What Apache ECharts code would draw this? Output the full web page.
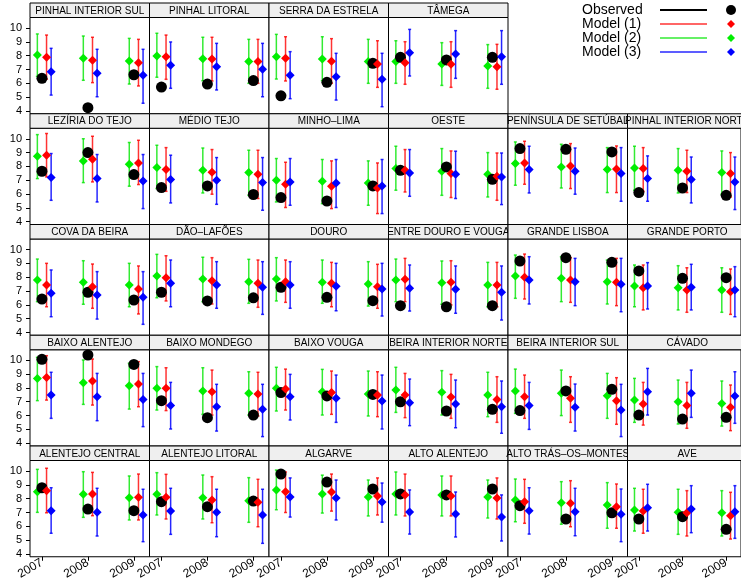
<!DOCTYPE html>
<html>
<head>
<meta charset="utf-8">
<script src="https://cdn.jsdelivr.net/npm/echarts@6/dist/echarts.min.js"></script>
<style>
  html, body { margin: 0; padding: 0; background: #fff; }
  #chart { width: 741px; height: 586px; }
</style>
</head>
<body>
<div id="chart"></div>
<script>
// panels, in reading order (first row has 4 panels, then legend)
const regions = [
  'PINHAL INTERIOR SUL', 'PINHAL LITORAL', 'SERRA DA ESTRELA', 'TÂMEGA',
  'LEZÍRIA DO TEJO', 'MÉDIO TEJO', 'MINHO–LIMA', 'OESTE', 'PENÍNSULA DE SETÚBAL', 'PINHAL INTERIOR NORTE',
  'COVA DA BEIRA', 'DÃO–LAFÕES', 'DOURO', 'ENTRE DOURO E VOUGA', 'GRANDE LISBOA', 'GRANDE PORTO',
  'BAIXO ALENTEJO', 'BAIXO MONDEGO', 'BAIXO VOUGA', 'BEIRA INTERIOR NORTE', 'BEIRA INTERIOR SUL', 'CÁVADO',
  'ALENTEJO CENTRAL', 'ALENTEJO LITORAL', 'ALGARVE', 'ALTO ALENTEJO', 'ALTO TRÁS–OS–MONTES', 'AVE'
];
const years = [2007, 2008, 2009];
const yTicks = [4, 5, 6, 7, 8, 9, 10];

// observed value per year
const obs = [
  [6.36, 4.24, 6.62], [5.73, 5.95, 6.2], [5.1, 6.07, 7.45], [7.88, 7.69, 7.88],
  [7.65, 9.0, 7.41], [6.47, 6.59, 5.97], [5.75, 5.5, 6.59], [7.72, 7.96, 7.07], [9.29, 9.24, 9.05], [6.11, 6.44, 5.91],
  [6.42, 6.91, 6.35], [6.91, 6.28, 6.51], [7.27, 6.54, 6.3], [5.94, 5.86, 5.94], [9.17, 9.41, 9.07], [8.45, 7.92, 7.96],
  [10.07, 10.38, 9.7], [7.08, 5.85, 6.04], [7.66, 7.42, 7.53], [7.0, 6.33, 6.45], [6.36, 7.78, 7.9], [6.04, 5.75, 5.87],
  [8.79, 7.25, 7.13], [7.78, 7.42, 7.83], [9.78, 9.2, 8.7], [8.34, 8.27, 8.7], [7.49, 6.53, 6.98], [6.53, 6.7, 5.78]
];

// model (1), red: [estimate, lower, upper] per year
const model1 = [
  [[7.88, 6.3, 9.49], [7.66, 6.05, 9.33], [7.49, 5.81, 9.18]],
  [[7.93, 6.29, 9.49], [7.76, 6.17, 9.33], [7.57, 6.0, 9.18]],
  [[7.81, 6.17, 9.37], [7.59, 6.0, 9.23], [7.40, 5.71, 9.08]],
  [[7.49, 5.93, 9.01], [7.38, 5.71, 9.01], [7.20, 5.57, 8.82]],
  [[8.81, 7.24, 10.38], [8.52, 6.88, 10.18], [8.25, 6.69, 9.89]],
  [[7.77, 6.2, 9.36], [7.58, 5.99, 9.22], [7.43, 5.68, 9.17]],
  [[6.71, 5.03, 8.3], [6.57, 4.95, 8.4], [6.44, 4.59, 8.25]],
  [[7.72, 6.15, 9.22], [7.48, 5.75, 9.12], [7.29, 5.55, 8.97]],
  [[8.25, 6.71, 9.82], [8.03, 6.4, 9.65], [7.82, 6.11, 9.48]],
  [[7.85, 6.2, 9.36], [7.65, 6.11, 9.17], [7.48, 5.79, 9.0]],
  [[7.43, 5.86, 9.0], [7.31, 5.75, 8.95], [7.14, 5.34, 8.81]],
  [[7.96, 6.28, 9.55], [7.74, 6.06, 9.41], [7.56, 5.82, 9.24]],
  [[7.67, 6.18, 9.24], [7.56, 5.86, 9.07], [7.31, 5.75, 8.93]],
  [[7.85, 6.23, 9.36], [7.63, 5.99, 9.19], [7.43, 5.86, 9.07]],
  [[7.99, 6.42, 9.67], [7.79, 6.18, 9.41], [7.63, 5.94, 9.36]],
  [[7.24, 5.63, 8.88], [7.07, 5.46, 8.68], [6.95, 5.31, 8.59]],
  [[8.76, 7.12, 10.33], [8.5, 6.76, 10.09], [8.28, 6.64, 9.9]],
  [[7.97, 6.36, 9.46], [7.73, 6.04, 9.29], [7.56, 5.97, 9.13]],
  [[7.92, 6.4, 9.36], [7.66, 6.09, 9.22], [7.48, 5.92, 9.17]],
  [[7.48, 5.85, 9.05], [7.34, 5.8, 8.98], [7.17, 5.51, 8.81]],
  [[7.36, 5.8, 8.93], [7.25, 5.51, 8.81], [7.08, 5.37, 8.74]],
  [[6.83, 5.31, 8.4], [6.72, 5.08, 8.4], [6.6, 4.91, 8.21]],
  [[8.58, 6.98, 10.2], [8.34, 6.77, 9.9], [8.1, 6.46, 9.78]],
  [[8.1, 6.53, 9.76], [7.9, 6.26, 9.59], [7.74, 5.97, 9.4]],
  [[8.5, 7.0, 9.93], [8.48, 7.1, 9.78], [8.2, 6.82, 9.5]],
  [[8.27, 6.75, 9.78], [8.2, 6.75, 9.64], [8.05, 6.53, 9.5]],
  [[7.78, 6.22, 9.4], [7.66, 5.97, 9.3], [7.42, 5.86, 9.06]],
  [[7.11, 5.5, 8.68], [6.98, 5.3, 8.58], [6.77, 5.08, 8.46]]
];

// model (2), green
const model2 = [
  [[8.05, 6.5, 9.57], [7.81, 6.22, 9.42], [7.61, 5.95, 9.25]],
  [[7.98, 6.44, 9.62], [7.78, 6.19, 9.33], [7.57, 6.0, 9.18]],
  [[7.93, 6.31, 9.54], [7.76, 6.19, 9.37], [7.57, 6.0, 9.18]],
  [[7.57, 6.0, 9.08], [7.40, 5.85, 8.94], [7.25, 5.64, 8.8]],
  [[8.73, 7.12, 10.3], [8.4, 6.83, 10.0], [8.16, 6.57, 9.73]],
  [[7.92, 6.4, 9.53], [7.72, 6.08, 9.33], [7.56, 5.91, 9.17]],
  [[7.0, 5.43, 8.57], [6.93, 5.31, 8.5], [6.8, 5.19, 8.4]],
  [[7.85, 6.28, 9.46], [7.65, 5.91, 9.29], [7.43, 5.79, 9.0]],
  [[8.21, 6.64, 9.77], [7.96, 6.44, 9.6], [7.77, 6.11, 9.36]],
  [[7.89, 6.28, 9.46], [7.72, 6.08, 9.29], [7.56, 5.99, 9.12]],
  [[7.79, 6.23, 9.31], [7.63, 6.04, 9.19], [7.43, 5.86, 9.0]],
  [[8.08, 6.51, 9.65], [7.87, 6.23, 9.44], [7.67, 6.11, 9.29]],
  [[7.87, 6.28, 9.41], [7.63, 6.11, 9.24], [7.51, 5.91, 9.12]],
  [[7.79, 6.23, 9.31], [7.6, 6.04, 9.17], [7.43, 5.86, 9.07]],
  [[8.08, 6.47, 9.6], [7.92, 6.23, 9.48], [7.67, 6.06, 9.24]],
  [[7.36, 5.86, 8.88], [7.24, 5.63, 8.83], [7.07, 5.46, 8.68]],
  [[8.69, 7.08, 10.21], [8.38, 6.81, 10.02], [8.16, 6.47, 9.78]],
  [[7.97, 6.4, 9.54], [7.78, 6.09, 9.46], [7.61, 6.04, 9.17]],
  [[7.97, 6.33, 9.49], [7.73, 6.04, 9.34], [7.56, 5.97, 9.22]],
  [[7.85, 6.23, 9.49], [7.68, 6.04, 9.25], [7.48, 5.92, 9.13]],
  [[7.78, 6.16, 9.36], [7.61, 6.0, 9.29], [7.44, 5.8, 9.05]],
  [[7.12, 5.51, 8.69], [7.0, 5.39, 8.57], [6.88, 5.24, 8.5]],
  [[8.5, 7.01, 10.12], [8.32, 6.65, 9.95], [8.07, 6.46, 9.64]],
  [[8.32, 6.82, 9.88], [8.07, 6.53, 9.71], [7.85, 6.29, 9.52]],
  [[8.63, 7.2, 10.07], [8.34, 6.96, 9.7], [8.12, 6.75, 9.35]],
  [[8.34, 6.82, 9.93], [8.27, 6.75, 9.64], [8.12, 6.6, 9.35]],
  [[7.9, 6.33, 9.42], [7.71, 6.15, 9.23], [7.54, 5.86, 9.16]],
  [[7.18, 5.66, 8.75], [7.01, 5.42, 8.68], [6.98, 5.3, 8.58]]
];

// model (3), blue
const model3 = [
  [[6.84, 5.15, 8.53], [6.72, 5.03, 8.46], [6.58, 4.56, 8.46]],
  [[7.30, 5.64, 8.99], [7.2, 5.52, 8.89], [7.01, 5.03, 8.89]],
  [[6.58, 4.89, 8.29], [6.48, 4.79, 8.17], [6.29, 4.31, 8.17]],
  [[8.22, 6.53, 9.9], [8.12, 6.36, 9.81], [7.93, 5.93, 9.81]],
  [[7.19, 5.55, 8.93], [7.12, 5.43, 8.86], [6.95, 4.95, 8.86]],
  [[7.05, 5.36, 8.81], [7.0, 5.26, 8.64], [6.83, 4.83, 8.64]],
  [[6.88, 5.19, 8.57], [6.8, 5.03, 8.5], [6.59, 4.59, 8.5]],
  [[7.53, 5.84, 9.22], [7.43, 5.68, 9.1], [7.24, 5.24, 8.97]],
  [[7.77, 6.08, 9.46], [7.65, 5.99, 9.33], [7.48, 5.48, 9.36]],
  [[7.12, 5.48, 8.76], [7.05, 5.36, 8.68], [6.88, 4.88, 8.68]],
  [[6.83, 5.14, 8.52], [6.71, 4.97, 8.4], [6.54, 4.59, 8.4]],
  [[7.56, 5.86, 9.24], [7.43, 5.75, 9.12], [7.27, 5.31, 9.12]],
  [[7.43, 5.75, 9.12], [7.34, 5.57, 9.0], [7.14, 5.19, 9.0]],
  [[7.19, 5.55, 8.88], [7.12, 5.39, 8.81], [6.91, 4.9, 8.81]],
  [[7.79, 6.06, 9.48], [7.67, 5.94, 9.36], [7.48, 5.5, 9.36]],
  [[7.36, 5.7, 9.05], [7.27, 5.63, 8.93], [7.07, 5.14, 8.76]],
  [[7.48, 5.8, 9.13], [7.36, 5.63, 9.05], [7.17, 5.2, 9.05]],
  [[6.72, 5.03, 8.4], [6.64, 4.88, 8.26], [6.45, 4.48, 8.26]],
  [[7.36, 5.68, 8.98], [7.25, 5.51, 8.93], [7.05, 5.03, 8.93]],
  [[6.93, 5.27, 8.64], [6.83, 5.12, 8.57], [6.64, 4.72, 8.5]],
  [[6.72, 5.0, 8.4], [6.6, 4.88, 8.28], [6.4, 4.48, 8.26]],
  [[7.73, 6.04, 9.41], [7.61, 5.87, 9.29], [7.42, 5.44, 9.17]],
  [[7.13, 5.5, 8.79], [7.01, 5.3, 8.75], [6.82, 4.89, 8.68]],
  [[7.11, 5.42, 8.75], [7.01, 5.25, 8.68], [6.82, 4.77, 8.68]],
  [[8.12, 6.67, 9.5], [8.05, 6.46, 9.35], [7.76, 6.3, 9.13]],
  [[7.04, 5.44, 8.63], [6.9, 5.23, 8.48], [6.67, 4.94, 8.27]],
  [[7.13, 5.44, 8.79], [7.06, 5.32, 8.75], [6.87, 4.89, 8.7]],
  [[7.35, 5.66, 9.04], [7.25, 5.54, 8.94], [7.06, 5.13, 8.94]]
];

const FONT = '"Liberation Sans", Arial, Helvetica, sans-serif';
const RED = 'rgba(255,0,0,0.8)', GREEN = 'rgba(0,230,0,0.8)', BLUE = 'rgba(0,0,255,0.85)';

const chart = echarts.init(document.getElementById('chart'));

// panel layout
const colL = 30, colW = 119.5, rowT = 3, rowH = 110.75, stripH = 14.5;
function cell(i) {
  if (i < 4) return { r: 0, c: i };
  return { r: 1 + Math.floor((i - 4) / 6), c: (i - 4) % 6 };
}

// error bar with small caps
function errBars(i, data, off, color) {
  return {
    type: 'custom',
    xAxisIndex: i,
    yAxisIndex: i,
    silent: true,
    data: data.map((d, k) => [years[k] + off, d[1], d[2]]),
    renderItem: function (params, api) {
      const x = api.value(0);
      const lo = api.coord([x, api.value(1)]);
      const hi = api.coord([x, api.value(2)]);
      const cw = 1.5;
      const st = { stroke: color, lineWidth: 1.5 };
      return {
        type: 'group',
        children: [
          { type: 'line', shape: { x1: lo[0], y1: lo[1], x2: hi[0], y2: hi[1] }, style: st },
          { type: 'line', shape: { x1: lo[0] - cw, y1: lo[1], x2: lo[0] + cw, y2: lo[1] }, style: st },
          { type: 'line', shape: { x1: hi[0] - cw, y1: hi[1], x2: hi[0] + cw, y2: hi[1] }, style: st }
        ]
      };
    }
  };
}

function points(i, data, off, color, symbol, size) {
  return {
    type: 'scatter',
    xAxisIndex: i,
    yAxisIndex: i,
    silent: true,
    symbol: symbol,
    symbolSize: size,
    itemStyle: { color: color, opacity: 1 },
    data: data.map((d, k) => [years[k] + off, Array.isArray(d) ? d[0] : d])
  };
}

const grid = [], xAxis = [], yAxis = [], series = [], graphic = [];

regions.forEach((name, i) => {
  const { r, c } = cell(i);
  const left = colL + c * colW;
  const stripTop = rowT + r * rowH;
  const top = stripTop + stripH;
  const h = rowH - stripH;

  grid.push({
    left: left, top: top, width: colW, height: h,
    show: true, borderColor: '#000', borderWidth: 1, backgroundColor: '#fff'
  });

  xAxis.push({
    type: 'value', gridIndex: i, min: 2006.74, max: 2009.34,
    splitLine: { show: false },
    axisLine: { show: false },
    axisTick: { show: r === 4, length: 4, customValues: years, lineStyle: { color: '#000' } },
    axisLabel: {
      show: r === 4, customValues: years, rotate: 30, margin: 5,
      formatter: v => String(v),
      color: '#000', fontSize: 12, fontFamily: FONT
    }
  });

  yAxis.push({
    type: 'value', gridIndex: i, min: 3.8, max: 10.76,
    splitLine: { show: false },
    axisLine: { show: false },
    axisTick: { show: c === 0, length: 4, customValues: yTicks, lineStyle: { color: '#000' } },
    axisLabel: {
      show: c === 0, customValues: yTicks, margin: 8,
      color: '#000', fontSize: 11, fontFamily: FONT
    }
  });

  series.push(errBars(i, model2[i], -0.1, GREEN));
  series.push(points(i, model2[i], -0.1, '#00ee00', 'diamond', 9));
  series.push(points(i, obs[i], 0, '#000', 'circle', 11));
  series.push(errBars(i, model1[i], 0.1, RED));
  series.push(points(i, model1[i], 0.1, '#ff0000', 'diamond', 9));
  series.push(errBars(i, model3[i], 0.2, BLUE));
  series.push(points(i, model3[i], 0.2, '#0000ff', 'diamond', 9));

  // strip with the panel name
  graphic.push({
    type: 'rect', silent: true,
    shape: { x: left, y: stripTop, width: colW, height: stripH },
    style: { fill: '#efefef', stroke: '#000', lineWidth: 1 }
  });
  graphic.push({
    type: 'text', silent: true,
    x: left + colW / 2, y: stripTop + stripH / 2 + 0.5,
    style: {
      text: name, fill: '#000', font: '10px ' + FONT,
      textAlign: 'center', textVerticalAlign: 'middle'
    }
  });
});

// legend, drawn to match the key in the top-right corner
const legendItems = [
  { label: 'Observed', color: '#000', line: '#000', symbol: 'circle' },
  { label: 'Model (1)', color: '#ff0000', line: RED, symbol: 'diamond' },
  { label: 'Model (2)', color: '#00ee00', line: GREEN, symbol: 'diamond' },
  { label: 'Model (3)', color: '#0000ff', line: BLUE, symbol: 'diamond' }
];
legendItems.forEach((it, k) => {
  const y = 10 + k * 14;
  graphic.push({
    type: 'text', silent: true, x: 582, y: y,
    style: { text: it.label, fill: '#000', font: '14px ' + FONT, textAlign: 'left', textVerticalAlign: 'middle' }
  });
  graphic.push({
    type: 'line', silent: true,
    shape: { x1: 660, y1: y, x2: 707, y2: y },
    style: { stroke: it.line, lineWidth: k === 0 ? 2 : 1.5 }
  });
  if (it.symbol === 'circle') {
    graphic.push({ type: 'circle', silent: true, shape: { cx: 731, cy: y, r: 5 }, style: { fill: it.color } });
  } else {
    graphic.push({
      type: 'polygon', silent: true,
      shape: { points: [[731, y - 4], [735, y], [731, y + 4], [727, y]] },
      style: { fill: it.color }
    });
  }
});

chart.setOption({
  animation: false,
  backgroundColor: '#fff',
  grid: grid,
  xAxis: xAxis,
  yAxis: yAxis,
  series: series,
  graphic: graphic
});
</script>
</body>
</html>
